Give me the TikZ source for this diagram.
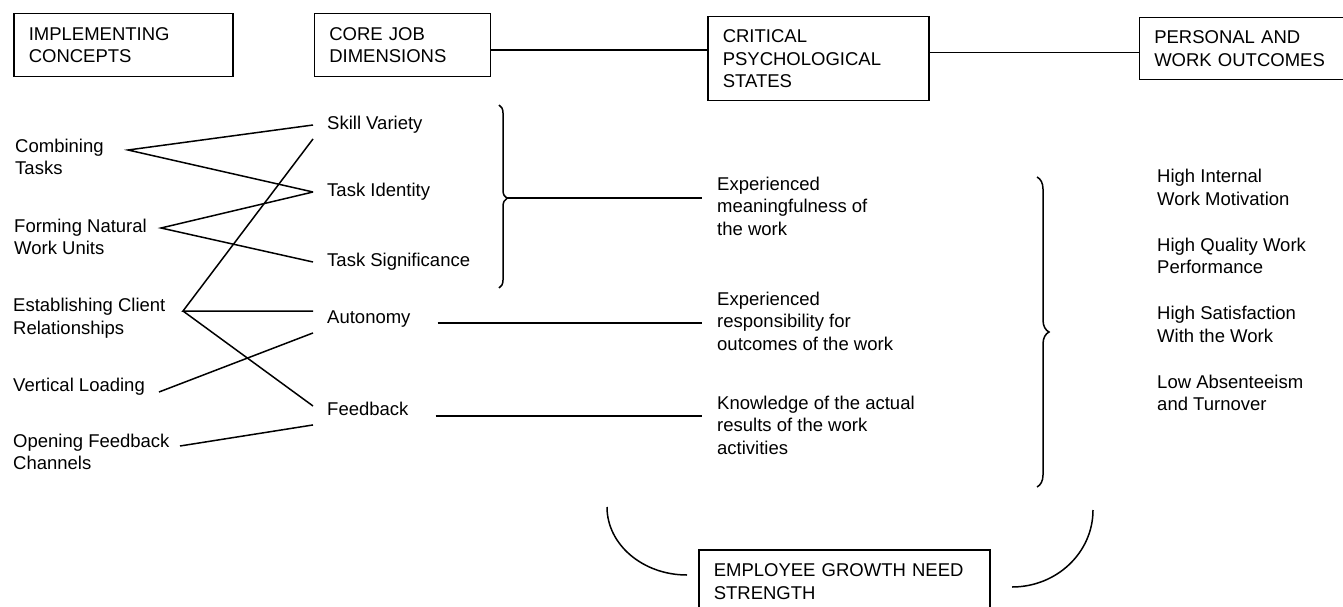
\documentclass[tikz,border=0pt]{standalone}
\usepackage{fontspec}
\setmainfont{Liberation Sans}
\usepackage{tikz}
\usetikzlibrary{positioning, decorations.pathreplacing}
\tikzstyle{link} = [line width=1.5pt]

\begin{document}
\begin{tikzpicture}[
    x=1pt, y=-1pt,
    every node/.style={font=\fontsize{18.5}{22.5}\selectfont},
    hdr/.style={draw, line width=1.5pt, align=left, inner xsep=15pt, anchor=north west},
    concept/.style={align=left, inner sep=0pt, anchor=west},
    dimen/.style={anchor=west, inner xsep=14pt, inner ysep=5pt, text height=13.5pt, text depth=4pt},
    state/.style={align=left, inner xsep=15pt, inner ysep=0pt, anchor=west},
    outcome/.style={align=left, inner sep=0pt},
    brc/.style={line width=1.5pt, decorate, decoration={brace, amplitude=#1}}
  ]

  \useasboundingbox (0,0) rectangle (1343,607);

  \node[hdr, text width=189pt, minimum height=63pt] (impc) at (13,13) {IMPLEMENTING\\CONCEPTS};
  \node[hdr, text width=146pt, minimum height=63pt, right=80pt of impc.north east, anchor=north west] (core) {CORE JOB\\DIMENSIONS};
  \node[hdr, text width=191pt, minimum height=84pt, right=216pt of core.north east, anchor=north west, yshift=-3pt] (crit) {CRITICAL\\PSYCHOLOGICAL\\STATES};
  \node[hdr, text width=188pt, minimum height=62pt, right=209pt of crit.north east, anchor=north west, yshift=-1pt] (pout) {PERSONAL AND\\WORK OUTCOMES};
  \node[hdr, text width=261pt, minimum height=64pt] (egns) at (698,549) {EMPLOYEE GROWTH NEED\\STRENGTH};

  \coordinate (cj) at ([yshift=-5pt]core.east);
  \draw[link] (cj) -- (cj -| crit.west);
  \coordinate (po) at ([yshift=-4pt]pout.west);
  \draw[link] (po -| crit.east) -- (po);

  \node[concept] (comb) at (15,157) {Combining\\Tasks};
  \node[concept] (form) at (14,237) {Forming Natural\\Work Units};
  \node[concept] (est) at (13,318) {Establishing Client\\Relationships};
  \node[concept] (vl) at (13,387) {Vertical Loading};
  \node[concept] (ofc) at (13,452) {Opening Feedback\\Channels};

  \coordinate (comb-p) at (128,150);
  \coordinate (form-p) at (161,228);
  \coordinate (est-p) at (183,311);
  \coordinate (vl-p) at (159,392);
  \coordinate (ofc-p) at (180,446);

  \node[dimen] (sv) at (313,125) {Skill Variety};
  \node[dimen] (ti) at (313,192) {Task Identity};
  \node[dimen] (ts) at (313,262) {Task Significance};
  \node[dimen] (aut) at (313,319) {Autonomy};
  \node[dimen] (fb) at (313,411) {Feedback};

  \draw[link] (sv.west) -- (comb-p) -- (ti.west);
  \draw[link] (ti.west) -- (form-p) -- (ts.west);
  \draw[link] (sv.south west) -- (est-p) -- (est-p -| aut.west);
  \draw[link] (est-p) -- ([yshift=5pt]fb.west);
  \draw[link] (vl-p) -- (aut.south west);
  \draw[link] (ofc-p) -- (fb.south west);

  \node[state] (mean) at (702,206) {Experienced\\meaningfulness of\\the work};
  \node[state] (resp) at (702,321) {Experienced\\responsibility for\\outcomes of the work};
  \node[state] (know) at (702,425) {Knowledge of the actual\\results of the work\\activities};

  \draw[brc=8pt, decoration={aspect=0.51}] (499,105) -- (499,288);
  \coordinate (mf) at (507,198);
  \draw[link] (mf) -- (mf -| mean.west);
  \coordinate (au) at ([shift={(13pt,-4pt)}]aut.east);
  \draw[link] (au) -- (au -| resp.west);
  \coordinate (fe) at ([shift={(13pt,-5pt)}]fb.east);
  \draw[link] (fe) -- (fe -| know.west);

  \draw[brc=12pt] (1037,177) -- (1037,487);

  \node[outcome, anchor=north west] (o1) at (1157,169) {High Internal\\Work Motivation};
  \node[outcome, below=32pt of o1.south west, anchor=north west] (o2) {High Quality Work\\Performance};
  \node[outcome, below=32pt of o2.south west, anchor=north west] (o3) {High Satisfaction\\With the Work};
  \node[outcome, below=32pt of o3.south west, anchor=north west] (o4) {Low Absenteeism\\and Turnover};

  \coordinate (gl) at (607,507);
  \coordinate (gr) at (1093,510);
  \draw[link] (gl) arc[start angle=180, end angle=270, x radius=80pt, y radius=68pt];
  \draw[link] (gr) arc[start angle=0, end angle=-90, x radius=81pt, y radius=77pt];

\end{tikzpicture}
\end{document}
